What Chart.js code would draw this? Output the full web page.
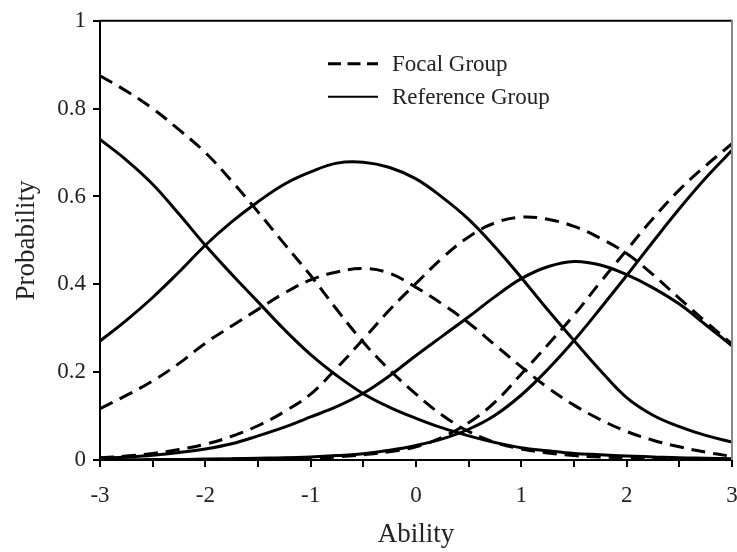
<!DOCTYPE html>
<html>
<head>
<meta charset="utf-8">
<script src="https://cdn.jsdelivr.net/npm/chart.js@4.4.1/dist/chart.umd.min.js"></script>
<style>
  html, body { margin: 0; padding: 0; background: #fff; }
  #wrap { width: 737px; height: 552px; }
</style>
</head>
<body>
<div id="wrap"><canvas id="c" width="737" height="552"></canvas></div>
<script>
// ---- data ----
const ability = [-3, -2.75, -2.5, -2.25, -2, -1.75, -1.5, -1.25, -1, -0.75, -0.5, -0.25, 0,
                 0.25, 0.5, 0.75, 1, 1.25, 1.5, 1.75, 2, 2.25, 2.5, 2.75, 3];

const refCat1 = [0.730, 0.683, 0.628, 0.560, 0.489, 0.423, 0.360, 0.297, 0.240, 0.192, 0.151, 0.120, 0.095,
                 0.073, 0.055, 0.040, 0.028, 0.021, 0.015, 0.012, 0.009, 0.007, 0.005, 0.004, 0.003];
const refCat2 = [0.271, 0.318, 0.370, 0.428, 0.489, 0.542, 0.588, 0.628, 0.656, 0.676, 0.678, 0.666, 0.640,
                 0.598, 0.548, 0.485, 0.415, 0.342, 0.272, 0.204, 0.142, 0.102, 0.076, 0.056, 0.041];
const refCat3 = [0.004, 0.007, 0.011, 0.017, 0.025, 0.037, 0.055, 0.075, 0.098, 0.122, 0.152, 0.192, 0.238,
                 0.282, 0.326, 0.372, 0.413, 0.440, 0.452, 0.444, 0.422, 0.392, 0.355, 0.308, 0.260];
const refCat4 = [0.000, 0.000, 0.001, 0.001, 0.002, 0.003, 0.004, 0.005, 0.007, 0.010, 0.014, 0.022, 0.033,
                 0.048, 0.070, 0.102, 0.148, 0.206, 0.272, 0.345, 0.420, 0.497, 0.572, 0.642, 0.705];

const focalCat1 = [0.875, 0.840, 0.800, 0.752, 0.700, 0.635, 0.565, 0.492, 0.420, 0.342, 0.268, 0.205, 0.150,
                   0.102, 0.065, 0.040, 0.025, 0.016, 0.010, 0.007, 0.005, 0.003, 0.002, 0.001, 0.001];
const focalCat2 = [0.117, 0.147, 0.180, 0.220, 0.266, 0.305, 0.343, 0.380, 0.410, 0.428, 0.436, 0.425, 0.393,
                   0.355, 0.312, 0.262, 0.212, 0.165, 0.125, 0.092, 0.065, 0.045, 0.030, 0.018, 0.008];
const focalCat3 = [0.005, 0.009, 0.015, 0.024, 0.036, 0.054, 0.078, 0.110, 0.150, 0.210, 0.275, 0.342, 0.402,
                   0.460, 0.508, 0.540, 0.553, 0.548, 0.532, 0.505, 0.470, 0.422, 0.368, 0.315, 0.264];
const focalCat4 = [0.000, 0.000, 0.000, 0.001, 0.001, 0.002, 0.002, 0.003, 0.004, 0.007, 0.012, 0.019, 0.030,
                   0.052, 0.085, 0.132, 0.196, 0.262, 0.330, 0.405, 0.478, 0.550, 0.615, 0.670, 0.720];

const groupNames = ['Focal Group', 'Reference Group'];
const xTitle = 'Ability';
const yTitle = 'Probability';

// ---- chart ----
const SERIF = '"Liberation Serif", "Times New Roman", serif';
const TEXT = '#222';

function series(vals, dashed, label) {
  return {
    label: label,
    data: ability.map((x, i) => ({ x: x, y: vals[i] })),
    borderColor: '#000',
    borderWidth: 3,
    borderDash: dashed ? [14, 8] : [],
    pointRadius: 0,
    fill: false,
    tension: 0.4
  };
}

const datasets = [
  series(focalCat1, true, groupNames[0]),
  series(focalCat2, true, groupNames[0]),
  series(focalCat3, true, groupNames[0]),
  series(focalCat4, true, groupNames[0]),
  series(refCat1, false, groupNames[1]),
  series(refCat2, false, groupNames[1]),
  series(refCat3, false, groupNames[1]),
  series(refCat4, false, groupNames[1])
];

const framePlugin = {
  id: 'frame',
  afterDatasetsDraw(chart) {
    const { ctx, chartArea: a } = chart;
    ctx.save();
    ctx.setLineDash([]);
    ctx.lineWidth = 2;
    ctx.strokeStyle = '#000';
    ctx.beginPath();
    ctx.moveTo(a.left, a.top);
    ctx.lineTo(a.right, a.top);
    ctx.stroke();
    ctx.strokeStyle = '#888';
    ctx.beginPath();
    ctx.moveTo(a.right, a.top - 1);
    ctx.lineTo(a.right, a.bottom);
    ctx.stroke();
    ctx.restore();
  }
};

const groupLegend = {
  id: 'groupLegend',
  afterDraw(chart) {
    const { ctx, chartArea: a } = chart;
    const x0 = a.left + 228, x1 = a.left + 278, tx = a.left + 292;
    const rows = [
      { y: a.top + 43, dash: [13, 6.5], w: 3, text: groupNames[0] },
      { y: a.top + 76, dash: [], w: 2, text: groupNames[1] }
    ];
    ctx.save();
    ctx.font = '23px ' + SERIF;
    ctx.fillStyle = TEXT;
    ctx.textBaseline = 'middle';
    ctx.textAlign = 'left';
    rows.forEach(r => {
      ctx.setLineDash(r.dash);
      ctx.lineWidth = r.w;
      ctx.strokeStyle = '#000';
      ctx.beginPath();
      ctx.moveTo(x0, r.y);
      ctx.lineTo(x1, r.y);
      ctx.stroke();
      ctx.fillText(r.text, tx, r.y + 1);
    });
    ctx.restore();
  }
};

new Chart(document.getElementById('c'), {
  type: 'line',
  data: { datasets: datasets },
  options: {
    responsive: false,
    animation: false,
    devicePixelRatio: 1,
    layout: { padding: { top: 20, right: 5, left: 0, bottom: 0 } },
    plugins: { legend: { display: false }, tooltip: { enabled: false } },
    scales: {
      x: {
        type: 'linear',
        min: -3, max: 3,
        afterFit: s => { s.height = 92; s.paddingLeft = 0; s.paddingRight = 0; },
        ticks: {
          stepSize: 0.5,
          autoSkip: false,
          maxRotation: 0,
          padding: 15,
          color: TEXT,
          font: { family: SERIF, size: 23 },
          callback: v => Number.isInteger(v) ? String(v) : ''
        },
        grid: { drawOnChartArea: false, drawTicks: true, tickLength: 7, color: '#000', lineWidth: 2 },
        border: { display: true, color: '#000', width: 2 },
        title: { display: true, text: xTitle, color: TEXT, font: { family: SERIF, size: 27 }, padding: { top: 4, bottom: 1 } }
      },
      y: {
        min: 0, max: 1,
        afterFit: s => { s.width = 100; },
        ticks: {
          stepSize: 0.2,
          padding: 7,
          color: TEXT,
          font: { family: SERIF, size: 23 },
          callback: v => String(Math.round(v * 10) / 10)
        },
        grid: { drawOnChartArea: false, drawTicks: true, tickLength: 7, color: '#000', lineWidth: 2 },
        border: { display: true, color: '#000', width: 2 },
        title: { display: true, text: yTitle, color: TEXT, font: { family: SERIF, size: 27 }, padding: { top: 11, bottom: 4 } }
      }
    }
  },
  plugins: [framePlugin, groupLegend]
});
</script>
</body>
</html>
